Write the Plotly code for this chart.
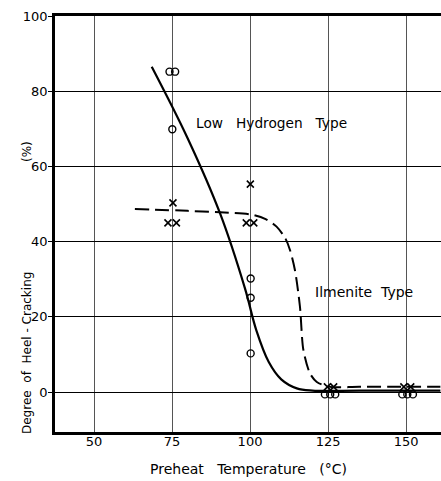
import plotly.graph_objects as go

# Measured cracking ratios (%) against preheat temperature (°C)
lowh_temp = [74.2, 76.0, 75.1, 100.2, 100.2, 100.2, 124.0, 125.7, 127.3, 148.8, 150.4, 152.2]
lowh_crack = [85.2, 85.2, 69.9, 30.2, 25.1, 10.3, -0.6, -0.6, -0.6, -0.6, -0.6, -0.6]

ilm_temp = [75.3, 73.7, 76.4, 100.1, 98.8, 101.2, 124.8, 126.8, 149.3, 151.5]
ilm_crack = [50.3, 45.0, 45.0, 55.3, 45.0, 45.0, 1.4, 1.4, 1.4, 1.4]

# Fitted trend curves
lowh_curve_t = [68.5, 80.0, 90.4, 98.4, 102.0, 106.0, 110.0, 115.0, 120.0, 135.0, 161.0]
lowh_curve_c = [86.5, 67.5, 47.5, 27.5, 16.5, 8.0, 3.4, 1.0, 0.4, 0.4, 0.4]

ilm_curve_t = [63.1, 80.0, 90.4, 100.5, 105.0, 108.5, 111.3, 112.8, 114.4, 116.0, 117.1,
               119.2, 121.4, 125.6, 135.0, 161.0]
ilm_curve_c = [48.7, 48.2, 47.8, 47.2, 46.0, 44.0, 40.9, 37.8, 32.4, 22.7, 11.2,
               5.0, 2.7, 1.4, 1.4, 1.4]

x_ticks = [50, 75, 100, 125, 150]
y_ticks = [0, 20, 40, 60, 80, 100]

FONT = "DejaVu Sans"
M_L, M_R, M_T, M_B = 55, 0, 16, 49
W, H = 441, 481
PLOT_H = H - M_T - M_B
PLOT_W = W - M_L - M_R

fig = go.Figure()

fig.add_trace(go.Scatter(
    x=lowh_curve_t, y=lowh_curve_c, mode="lines",
    line=dict(color="black", width=2.2, shape="spline", smoothing=1.0),
    hoverinfo="skip", showlegend=False))

fig.add_trace(go.Scatter(
    x=ilm_curve_t, y=ilm_curve_c, mode="lines",
    line=dict(color="black", width=2, dash="14px,6px", shape="spline", smoothing=0.8),
    hoverinfo="skip", showlegend=False))

fig.add_trace(go.Scatter(
    x=lowh_temp, y=lowh_crack, mode="markers", name="Low Hydrogen Type",
    marker=dict(symbol="circle-open", size=7, color="black", line=dict(width=1.4)),
    showlegend=False))

fig.add_trace(go.Scatter(
    x=ilm_temp, y=ilm_crack, mode="markers", name="Ilmenite Type",
    marker=dict(symbol="x-thin-open", size=7, color="black", line=dict(width=1.6)),
    showlegend=False))

# Curve labels
fig.add_annotation(x=82.1, y=71.5, xref="x", yref="y", text="Low   Hydrogen   Type",
                   showarrow=False, xanchor="left", yanchor="middle",
                   font=dict(family=FONT, size=13.7, color="black"))
fig.add_annotation(x=120.2, y=26.6, xref="x", yref="y", text="Ilmenite  Type",
                   showarrow=False, xanchor="left", yanchor="middle",
                   font=dict(family=FONT, size=14, color="black"))

# Axis titles
fig.add_annotation(x=(248 - M_L) / PLOT_W, y=-(469 - (H - M_B)) / PLOT_H, xref="paper", yref="paper",
                   text="Preheat   Temperature   (°C)", showarrow=False,
                   xanchor="center", yanchor="middle",
                   font=dict(family=FONT, size=14, color="black"))
fig.add_annotation(x=(27 - M_L) / PLOT_W, y=(H - M_B - 353) / PLOT_H, xref="paper", yref="paper",
                   text="Degree  of  Heel - Cracking", showarrow=False, textangle=-90,
                   xanchor="center", yanchor="middle",
                   font=dict(family=FONT, size=12, color="black"))
fig.add_annotation(x=(27 - M_L) / PLOT_W, y=(H - M_B - 152) / PLOT_H, xref="paper", yref="paper",
                   text="(%)", showarrow=False, textangle=-90,
                   xanchor="center", yanchor="middle",
                   font=dict(family=FONT, size=12, color="black"))

fig.update_layout(
    width=W, height=H,
    margin=dict(l=M_L, r=M_R, t=M_T, b=M_B),
    paper_bgcolor="white", plot_bgcolor="white",
    font=dict(family=FONT, size=13, color="black"),
    xaxis=dict(range=[37.5, 161.2], tickvals=x_ticks, ticks="", showgrid=True,
               gridcolor="#555", gridwidth=1, zeroline=False,
               showline=True, linecolor="black", linewidth=2.5, mirror=True,
               ticklabelstandoff=-4,
               tickfont=dict(family=FONT, size=13, color="black")),
    yaxis=dict(range=[-10.6, 100], tickvals=y_ticks, ticks="outside", ticklen=4,
               tickcolor="black", tickwidth=1, showgrid=True,
               gridcolor="black", gridwidth=1, zeroline=False,
               showline=True, linecolor="black", linewidth=2.5,
               ticklabelstandoff=-2,
               tickfont=dict(family=FONT, size=13, color="black")),
)

fig.write_html("out.html")
